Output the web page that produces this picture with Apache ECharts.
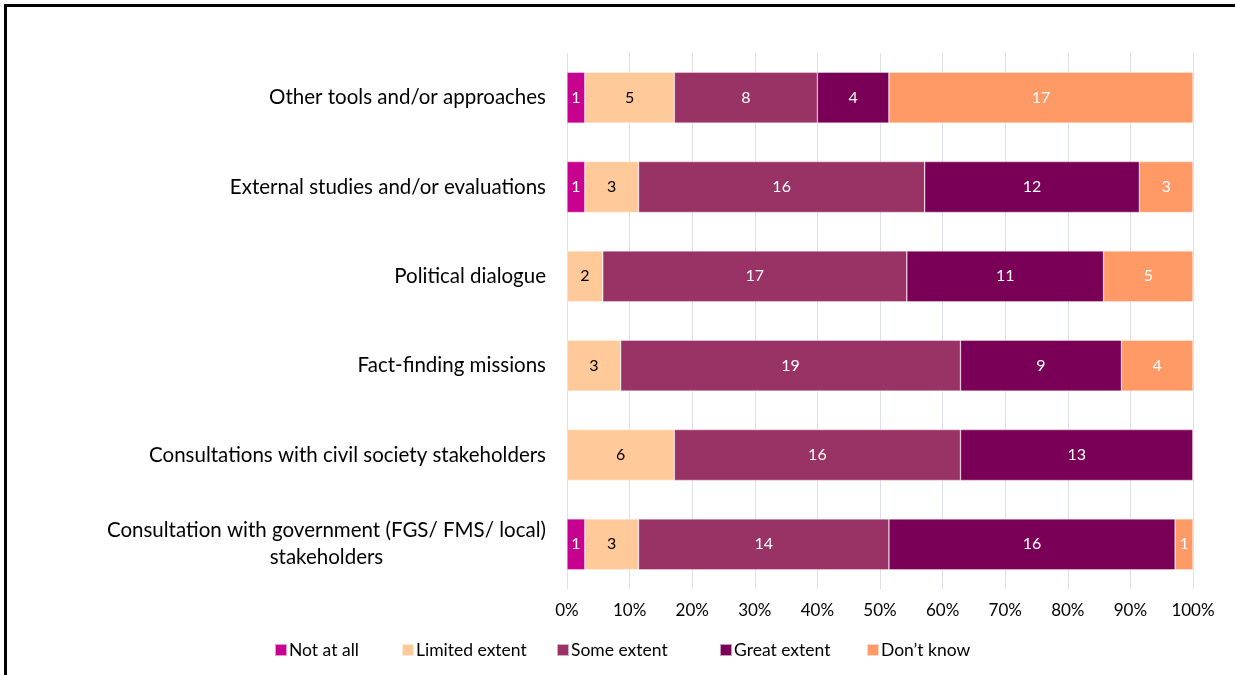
<!DOCTYPE html>
<html>
<head>
<meta charset="utf-8">
<script src="https://cdn.jsdelivr.net/npm/echarts@6/dist/echarts.min.js"></script>
<style>
  html, body { margin: 0; padding: 0; background: #fff; }
  #frame { position: absolute; left: 4px; top: 4px; width: 1240px; height: 680px;
           border-top: 3px solid #000; border-left: 3px solid #000; box-sizing: border-box; }
  #chart { position: absolute; left: 0; top: 0; width: 1235px; height: 675px; }
</style>
</head>
<body>
<div id="frame"></div>
<div id="chart"></div>
<script>
// Categories, listed top to bottom
const categories = [
  'Other tools and/or approaches',
  'External studies and/or evaluations',
  'Political dialogue',
  'Fact-finding missions',
  'Consultations with civil society stakeholders',
  'Consultation with government (FGS/ FMS/ local)\nstakeholders'
];

// Response counts per category
const notAtAll      = [1, 1, 0, 0, 0, 1];
const limitedExtent = [5, 3, 2, 3, 6, 3];
const someExtent    = [8, 16, 17, 19, 16, 14];
const greatExtent   = [4, 12, 11, 9, 13, 16];
const dontKnow      = [17, 3, 5, 4, 0, 1];

const seriesNames  = ['Not at all', 'Limited extent', 'Some extent', 'Great extent', 'Don\u2019t know'];
const seriesCounts = [notAtAll, limitedExtent, someExtent, greatExtent, dontKnow];
const seriesColors = ['#c8008f', '#ffc999', '#993366', '#7a0057', '#ff9966'];
const labelColors  = ['#ffffff', '#000000', '#ffffff', '#ffffff', '#ffffff'];

// Horizontal placement of each legend entry
const legendLeft = [274, 401, 556, 719, 866];

const totals = categories.map((_, i) => seriesCounts.reduce((s, arr) => s + arr[i], 0));

const FONT = 'Lato, "Open Sans", sans-serif';

const chart = echarts.init(document.getElementById('chart'), null, { renderer: 'canvas' });

const series = seriesNames.map((name, k) => ({
  name: name,
  type: 'bar',
  stack: 'total',
  barWidth: '57%',
  itemStyle: { color: seriesColors[k], borderColor: 'rgba(255,255,255,0.6)', borderWidth: 0.6 },
  label: {
    show: true,
    position: 'inside',
    color: labelColors[k],
    fontFamily: FONT,
    fontSize: 16,
    formatter: p => (seriesCounts[k][p.dataIndex] ? String(seriesCounts[k][p.dataIndex]) : '')
  },
  data: seriesCounts[k].map((v, i) => v / totals[i] * 100)
}));

const legends = seriesNames.map((name, k) => ({
  top: 641,
  left: legendLeft[k],
  padding: 0,
  icon: 'rect',
  itemWidth: 12,
  itemHeight: 12,
  textStyle: { fontFamily: FONT, fontSize: 17.5, color: '#000', padding: [0, 0, 0, -3] },
  data: [name]
}));

chart.setOption({
  animation: false,
  textStyle: { fontFamily: FONT },
  grid: { left: 567, right: 42, top: 53, bottom: 86, containLabel: false },
  legend: legends,
  xAxis: {
    type: 'value',
    min: 0,
    max: 100,
    interval: 10,
    axisLine: { show: false },
    axisTick: { show: false },
    splitLine: { lineStyle: { color: '#dadfe9', width: 1 } },
    axisLabel: { formatter: '{value}%', fontFamily: FONT, fontSize: 17, color: '#000', margin: 13 }
  },
  yAxis: {
    type: 'category',
    inverse: true,
    data: categories,
    axisLine: { show: false },
    axisTick: { show: false },
    axisLabel: {
      margin: 21,
      fontFamily: FONT,
      fontSize: 20.5,
      color: '#000',
      formatter: v => v.split('\n').map(s => '{c|' + s + '}').join('\n'),
      rich: { c: { fontFamily: FONT, fontSize: 20.5, color: '#000', align: 'center', lineHeight: 27 } }
    }
  },
  series: series
});
</script>
</body>
</html>
